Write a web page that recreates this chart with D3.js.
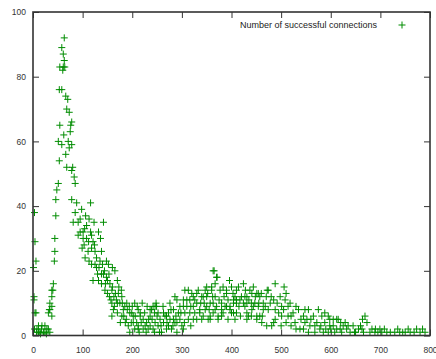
<!DOCTYPE html>
<html>
<head>
<meta charset="utf-8">
<script src="https://cdn.jsdelivr.net/npm/d3@7"></script>
<style>
  body { margin: 0; background: #fff; }
  svg { display: block; font-family: "Liberation Sans", Arial, sans-serif; }
</style>
</head>
<body>
<script>
// data: [time, connections]
const peakPoints = [
  [3,38],[4,29],[6,23],[1,21],[4,7],[6,7],[2,12],[2,11],[8,2],[11,3],[17,2],[24,3],[31,2],[14,1],[24,1],
  [34,1],[7,1],[21,1],[28,2],[11,1],[18,3],[3,2],[27,0.5],[15,0.5],
  [31,7],[34,8],[38,9],[38,6],[38,14],[40,14],[41,16],[43,23],[44,26],[44,30],[46,37],[46,42],[48,45],
  [51,47],[38,12],[34,10],[33,8],
  [63,92],[58,89],[61,87],[63,85],[54,83],[61,83],[64,83],[60,82],[53,76],[58,76],[66,74],[70,73],
  [68,70],[73,69],[54,65],[78,66],[76,65],[75,63],[51,60],[58,59],[71,60],[78,59],[73,58],[53,54],
  [68,52],[80,52],[78,51],[83,49],[85,47],[62,62],[66,56]
];
const decayPoints = [
  [78,42],[88,41],[116,41],[85,38],[98,39],[81,35],[91,35],[108,34],[123,35],[142,35],[95,32],[101,32],
  [116,32],[132,32],[91,31],[101,30],[121,29],[136,30],[103,28],[111,26],[125,26],[138,26],[105,24],
  [113,23],[128,24],[148,23],[118,22],[128,21],[138,19],[165,20],[121,17],[132,17],[148,18],[170,17],
  [138,16],[145,14],[159,14],[172,13],[154,12],[166,13],[179,12],[159,10],[170,10],[189,10],[162,8],
  [182,8],[195,7],[159,6],[179,6],[202,6],[192,3],[209,4],[212,2],
  [95,36],[104,33],[112,29],[118,27],[125,22],[133,21],[142,19],[150,17],[155,16],[160,15],[163,12],
  [168,11],[175,10],[178,14],[185,9],[190,8],[150,13],[144,20],[130,19],[108,30],[113,36],[99,27],
  [186,4],[198,4],[176,4],[170,7],[160,21],[152,22],
  [106,37],[118,31],[124,28],[135,23],[140,22],[146,16],[153,19],[157,11],[164,9],[173,15],[180,10],
  [183,6],[188,5],[194,9],[200,9],[205,10]
];
const valleyPoints = [
  [199,7],[212,8],[206,6],[216,6],[202,4],[222,5],[229,4],[226,3],[236,3],[232,2],[242,2],[212,3],
  [222,2],[246,4],[252,3],[259,1],[263,4],[273,3],[279,2],[269,2],[303,2],[290,4],[283,5],[236,8],
  [239,8],[248,10],[249,9],[242,9],[252,7],[263,7],[273,7],[266,6],[276,10],[286,12],[290,11],[283,8],
  [293,7],[296,9],[303,11],[256,5],[276,5],[286,4],[296,5],[236,6],[216,7],[246,9],[269,6],[214,1],
  [228,1],[255,1],[290,1],[300,3],[195,1],
  [205,2],[218,4],[225,7],[233,5],[240,5],[245,1],[250,6],[258,3],[262,9],[270,4],[278,8],[282,3],
  [288,6],[298,7],[305,4],[310,9],[318,3],[230,9],[220,10],[210,9],[245,7]
];
const bumpPoints = [
  [306,14],[313,14],[316,11],[320,13],[306,7],[316,7],[326,7],[336,7],[330,13],[330,10],[340,12],
  [347,14],[350,12],[357,10],[360,14],[367,16],[370,18],[365,20],[377,14],[383,15],[396,17],[390,14],
  [400,15],[410,14],[347,8],[357,6],[367,8],[373,6],[363,10],[380,10],[387,9],[397,9],[404,10],
  [410,11],[353,5],[340,5],[323,5],[313,5],[363,20],[371,18],[424,16],[444,15],[472,14],[350,15],
  [360,15],[414,15],[437,14],[451,13],[323,12],[343,12],[367,12],[390,13],[407,12],[431,12],[457,12],
  [303,9],[323,9],[336,8],[350,9],[370,9],[390,9],[410,10],[424,10],[444,9],[464,10],[478,10],[343,6],
  [363,7],[383,7],[404,7],[431,7],[457,6],[330,5],[357,5],[373,5],[407,5],[431,5],[451,6],[397,8],
  [427,12],[441,13],[404,11],[417,11],[431,10],[447,10],[427,9],[441,8],[454,9],[464,8],[488,16],
  [506,15],[474,14],[454,13],[498,12],[508,11],[501,9],[514,9],[524,7],[535,8],[548,8],[555,8],[575,8],
  [588,7],[410,7],[434,6],[451,5],[461,4],[471,3],[481,3],[488,5],[501,6],[514,6],[528,4],[538,2],
  [548,4],[558,3],[568,3],[578,2],[588,4],[598,3],[612,2],[568,1],[598,5],[612,5],[474,8],[488,8],
  [310,11],[318,9],[326,11],[333,14],[338,10],[345,10],[352,13],[355,8],[362,12],[375,11],[380,8],
  [385,12],[393,11],[400,7],[403,13],[415,9],[420,12],[428,14],[435,11],[440,10],[448,12],[455,10],
  [460,13],[468,9],[470,12],[480,12],[485,11],[492,10],[495,7],[505,8],[510,13],[518,10],[520,6],
  [530,9],[545,6],[552,5],[565,6],[572,4],[582,6],[595,6],[605,5],[380,6],[393,5],[418,6],[440,6],
  [462,6],[485,4],[500,3],[510,4],[520,3],[530,2],[545,2],[555,1],[585,1],[595,1]
];
const tailPoints = [
  [669,6],[673,4],[615,5],[629,4],[605,3],[619,2],[632,2],[645,3],[656,2],[666,1],[679,1],[689,1],
  [699,2],[713,1],[729,1],[739,1],[756,2],[773,2],[780,1],[790,1],[608,1],[639,1],[650,1],[660,3],
  [622,1],[690,2],[708,2],[720,1],[760,1],[745,1],[600,2],[590,2],[580,3],[560,5],[540,5],[620,4],
  [625,3],[635,3],[648,1],[663,2],[683,2],[695,1],[703,1],[735,2],[750,1],[768,1],[785,2],[664,5]
];
const xTicks = [0, 100, 200, 300, 400, 500, 600, 700, 800];
const yTicks = [0, 20, 40, 60, 80, 100];
const seriesName = "Number of successful connections";

const points = [...peakPoints, ...decayPoints, ...valleyPoints, ...bumpPoints, ...tailPoints];

const width = 436, height = 359;
const plotLeft = 33, plotRight = 430, plotTop = 12, plotBottom = 335.5;
const green = "#008c00";

const svg = d3.select(document.body).append("svg")
  .attr("width", width)
  .attr("height", height);

const x = d3.scaleLinear().domain([0, 800]).range([plotLeft, plotRight]);
const y = d3.scaleLinear().domain([0, 100]).range([plotBottom, plotTop]);

// axes, ticks pointing inward and mirrored on top/right
const styleAxis = g => {
  g.select(".domain").remove();
  g.selectAll(".tick line").attr("stroke", "#333").attr("stroke-width", 1);
  g.selectAll(".tick text").attr("fill", "#333").attr("font-size", 8.5)
    .attr("font-family", "'Liberation Sans', Arial, sans-serif");
};

svg.append("g")
  .attr("transform", `translate(0,${plotBottom})`)
  .call(d3.axisBottom(x).tickValues(xTicks).tickSize(-6).tickPadding(11))
  .call(styleAxis);

svg.append("g")
  .attr("transform", `translate(0,${plotTop})`)
  .call(d3.axisTop(x).tickValues(xTicks).tickSize(-6).tickFormat(""))
  .call(styleAxis);

svg.append("g")
  .attr("transform", `translate(${plotLeft},0)`)
  .call(d3.axisLeft(y).tickValues(yTicks).tickSize(-6).tickPadding(7))
  .call(styleAxis);

svg.append("g")
  .attr("transform", `translate(${plotRight},0)`)
  .call(d3.axisRight(y).tickValues(yTicks).tickSize(-6).tickFormat(""))
  .call(styleAxis);

// plus markers
const plus = (cx, cy) => `M${cx - 3.5},${cy}H${cx + 3.5}M${cx},${cy - 3.5}V${cy + 3.5}`;

svg.append("path")
  .attr("fill", "none")
  .attr("stroke", green)
  .attr("stroke-width", 1)
  .attr("d", points.map(d => plus(x(d[0]), y(d[1]))).join(""));

// frame
svg.append("rect")
  .attr("x", plotLeft)
  .attr("y", plotTop)
  .attr("width", plotRight - plotLeft)
  .attr("height", plotBottom - plotTop)
  .attr("fill", "none")
  .attr("stroke", "#333")
  .attr("stroke-width", 1.6);

// legend
svg.append("text")
  .attr("x", 240)
  .attr("y", 28.3)
  .attr("font-size", 9)
  .attr("fill", "#222")
  .text(seriesName);

svg.append("path")
  .attr("stroke", green)
  .attr("stroke-width", 1)
  .attr("d", plus(402, 25));
</script>
</body>
</html>
